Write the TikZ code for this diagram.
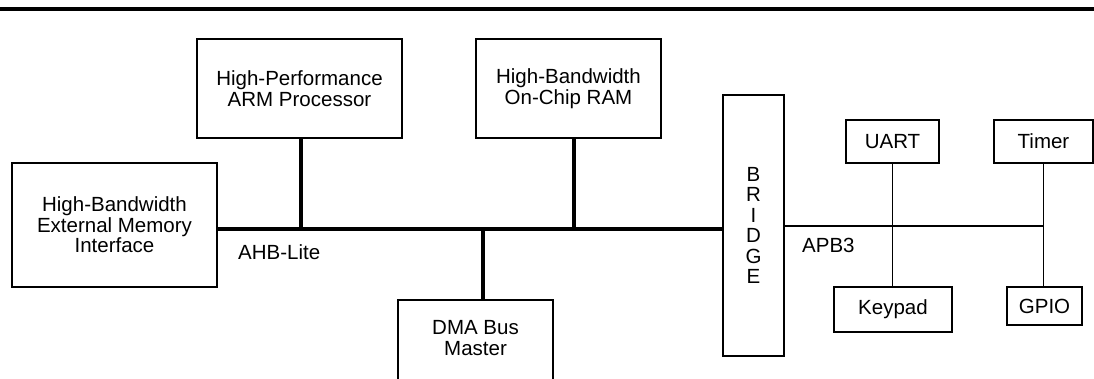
\documentclass[tikz,border=0pt]{standalone}
\usepackage{fontspec}
\setmainfont{Liberation Sans}
\newcommand{\blkfont}{\fontsize{20.5}{20.5}\selectfont}

\begin{document}
\begin{tikzpicture}[x=1pt, y=-1pt,
 block/.style={draw, line width=1.8pt, inner sep=0pt, outer sep=0pt, align=center, font=\blkfont},
 txt/.style={inner sep=0pt, align=center, font=\blkfont},
 ahbbus/.style={line width=4pt},
 apbbus/.style={line width=1.5pt}]
\useasboundingbox (0,0) rectangle (1094,379);
\clip (0,0) rectangle (1094,379);
% filet du haut
\coordinate (ruleL) at (0,9);
\coordinate (ruleR) at (1094,9);
\draw[line width=3.5pt] (ruleL) -- (ruleR);
% blocs AHB
\node[block, minimum width=205, minimum height=99] (cpu) at (299.5,88.5) {High-Performance\\ARM Processor};
\node[block, minimum width=205, minimum height=124] (ext) at (114.5,225) {High-Bandwidth\\External Memory\\Interface};
\node[block, minimum width=185, minimum height=99] (ram) at (568.5,88.5) {High-Bandwidth\\On-Chip RAM};
\node[block, minimum width=155, minimum height=110, anchor=north west] (dma) at (398,300) {};
\node[txt] (dmalbl) at (475.5,338) {DMA Bus\\Master};
\node[block, minimum width=61, minimum height=261] (bridge) at (753.5,225.5) {B\\R\\I\\D\\G\\E};
% blocs APB
\node[block, minimum width=93, minimum height=43] (uart) at (892.5,141.5) {UART};
\node[block, minimum width=118, minimum height=45] (keypad) at (893,309.5) {Keypad};
\node[block, minimum width=99, minimum height=43] (timer) at (1043.5,141.5) {Timer};
\node[block, minimum width=75, minimum height=38] (gpio) at (1044.5,306) {GPIO};
% bus AHB-Lite
\coordinate (ahb) at (0,229);
\draw[ahbbus] (ext.east |- ahb) -- (bridge.west |- ahb);
\draw[ahbbus] ([xshift=1.5pt]cpu.south) -- ([xshift=1.5pt]cpu.south |- ahb);
\draw[ahbbus] ([xshift=5.5pt]ram.south) -- ([xshift=5.5pt]ram.south |- ahb);
\draw[ahbbus] ([xshift=7.5pt]dma.north) -- ([xshift=7.5pt]dma.north |- ahb);
\node[txt, anchor=base west] (ahblbl) at (238,259) {AHB-Lite};
% bus APB3
\coordinate (apb) at (0,226);
\draw[apbbus] (bridge.east |- apb) -- (timer.south |- apb);
\draw[apbbus] (uart.south) -- (uart.south |- keypad.north);
\draw[apbbus] (timer.south) -- (timer.south |- gpio.north);
\node[txt, anchor=base west] (apblbl) at (802,253) {APB3};
\end{tikzpicture}
\end{document}
